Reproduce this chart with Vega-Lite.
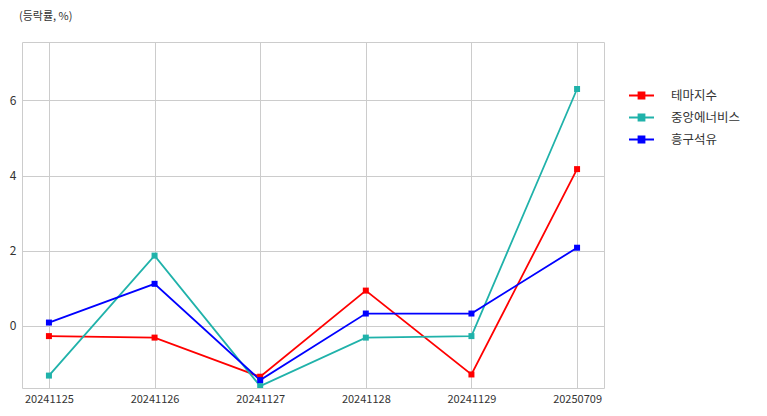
{
  "$schema": "https://vega.github.io/schema/vega-lite/v6.json",
  "width": 582,
  "height": 346,
  "autosize": {"type": "none"},
  "padding": {"left": 22, "top": 42, "right": 163, "bottom": 28},
  "background": "white",
  "title": {"text": "(등락률, %)", "anchor": "start", "frame": "group", "offset": 20, "dx": -3, "fontSize": 11, "fontWeight": "normal", "font": "Noto Sans CJK KR", "color": "#333333"},
  "config": {
    "font": "Noto Sans CJK KR",
    "view": {"stroke": "#cccccc", "strokeWidth": 1},
    "axis": {"domain": false, "ticks": false, "gridColor": "#cccccc", "gridWidth": 1, "labelColor": "#333333", "labelFontSize": 11, "title": null, "labelFont": "Noto Sans CJK KR"}
  },
  "data": {"values": [
    {"date": "20241125", "series": "테마지수", "v": -0.27},
    {"date": "20241126", "series": "테마지수", "v": -0.31},
    {"date": "20241127", "series": "테마지수", "v": -1.35},
    {"date": "20241128", "series": "테마지수", "v": 0.94},
    {"date": "20241129", "series": "테마지수", "v": -1.29},
    {"date": "20250709", "series": "테마지수", "v": 4.17},
    {"date": "20241125", "series": "중앙에너비스", "v": -1.32},
    {"date": "20241126", "series": "중앙에너비스", "v": 1.87},
    {"date": "20241127", "series": "중앙에너비스", "v": -1.6},
    {"date": "20241128", "series": "중앙에너비스", "v": -0.31},
    {"date": "20241129", "series": "중앙에너비스", "v": -0.27},
    {"date": "20250709", "series": "중앙에너비스", "v": 6.3},
    {"date": "20241125", "series": "흥구석유", "v": 0.09},
    {"date": "20241126", "series": "흥구석유", "v": 1.12},
    {"date": "20241127", "series": "흥구석유", "v": -1.44},
    {"date": "20241128", "series": "흥구석유", "v": 0.33},
    {"date": "20241129", "series": "흥구석유", "v": 0.33},
    {"date": "20250709", "series": "흥구석유", "v": 2.08}
  ]},
  "mark": {"type": "line", "strokeWidth": 1.8, "clip": true, "point": {"shape": "square", "filled": true, "size": 36, "opacity": 1}},
  "encoding": {
    "x": {"field": "date", "type": "ordinal", "scale": {"type": "point", "padding": 0.255}, "axis": {"labelAngle": 0, "labelPadding": 5, "grid": true}},
    "y": {"field": "v", "type": "quantitative", "scale": {"domain": [-1.65, 7.55], "nice": false, "zero": false}, "axis": {"values": [0, 2, 4, 6], "labelPadding": 6, "labelFontSize": 12, "grid": true}},
    "color": {"field": "series", "type": "nominal", "scale": {"domain": ["테마지수", "중앙에너비스", "흥구석유"], "range": ["#ff0000", "#20b2aa", "#0000ff"]},
      "legend": {"title": null, "orient": "none", "legendX": 606, "legendY": 40, "symbolType": "M-1,0H1M-0.24,-0.24H0.24V0.24H-0.24Z", "symbolSize": 625, "symbolStrokeWidth": 1.8, "labelFontSize": 12.5, "labelColor": "#333333", "labelOffset": 16, "rowPadding": 1,
        "encode": {"symbols": {"update": {"fill": {"scale": "color", "field": "value"}, "opacity": {"value": 1}}}}}},
    "order": {"field": "date"}
  }
}
